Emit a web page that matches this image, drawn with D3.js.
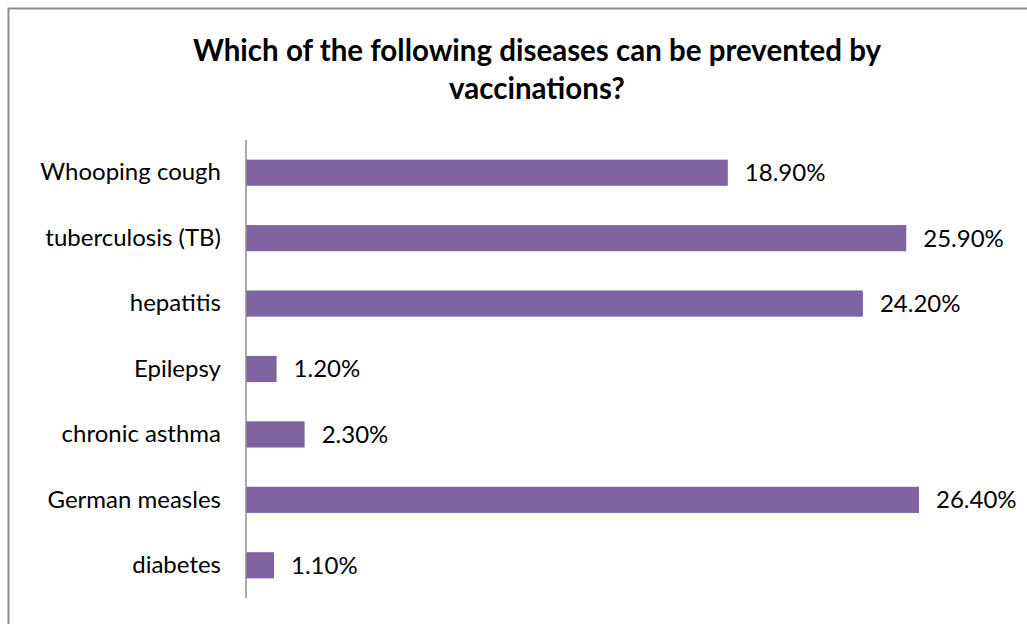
<!DOCTYPE html>
<html lang="en">
<head>
<meta charset="UTF-8">
<title>Vaccinations</title>
<style>
  body { margin: 0; background: #fff; }
  svg { display: block; font-family: Lato, "Open Sans", sans-serif; }
</style>
<script src="https://d3js.org/d3.v7.min.js"></script>
</head>
<body>
<div id="chart"></div>
<script>
  const diseases = ["Whooping cough", "tuberculosis (TB)", "hepatitis", "Epilepsy", "chronic asthma", "German measles", "diabetes"];
  const shares = [18.9, 25.9, 24.2, 1.2, 2.3, 26.4, 1.1];
  const titleLines = ["Which of the following diseases can be prevented by", "vaccinations?"];

  const W = 1027, H = 624;
  const axisX = 246, plotTop = 140, plotBottom = 598;

  const svg = d3.select("#chart").append("svg")
    .attr("width", W).attr("height", H);

  // outer frame (runs off the right and bottom edges)
  svg.append("rect")
    .attr("x", 8.5).attr("y", 8.5)
    .attr("width", W + 10).attr("height", H + 10)
    .attr("fill", "none").attr("stroke", "#8c8c8c").attr("stroke-width", 2);

  svg.selectAll(".title").data(titleLines).enter().append("text")
    .attr("x", 537).attr("y", (d, i) => 61 + i * 38)
    .attr("text-anchor", "middle")
    .style("font-size", "29.5px").style("font-weight", "bold")
    .text(d => d);

  const x = d3.scaleLinear().domain([0, 26.4]).range([axisX, 919]);
  const y = d3.scaleBand().domain(diseases).range([plotTop, plotBottom]).paddingInner(0.6).paddingOuter(0.3);

  const rows = diseases.map((d, i) => ({ name: d, value: shares[i] }));

  svg.selectAll(".bar").data(rows).enter().append("rect")
    .attr("class", "bar")
    .attr("x", x(0))
    .attr("y", d => y(d.name))
    .attr("width", d => x(d.value) - x(0))
    .attr("height", y.bandwidth())
    .attr("fill", "#8064a2");

  svg.selectAll(".val").data(rows).enter().append("text")
    .attr("x", d => x(d.value) + 17)
    .attr("y", d => y(d.name) + y.bandwidth() / 2)
    .attr("dy", "0.35em")
    .style("font-size", "24px")
    .text(d => d.value.toFixed(2) + "%");

  const yAxis = d3.axisLeft(y).tickSize(0).tickPadding(25);
  const g = svg.append("g").attr("transform", `translate(${axisX},0)`).call(yAxis);
  g.select(".domain").attr("stroke", "#8c8c8c").attr("stroke-width", 1.5)
    .attr("d", `M0,${plotTop}V${plotBottom}`);
  g.selectAll("text").style("font-size", "24px").attr("fill", "#000")
    .style("font-family", "Lato, 'Open Sans', sans-serif");
</script>
</body>
</html>
